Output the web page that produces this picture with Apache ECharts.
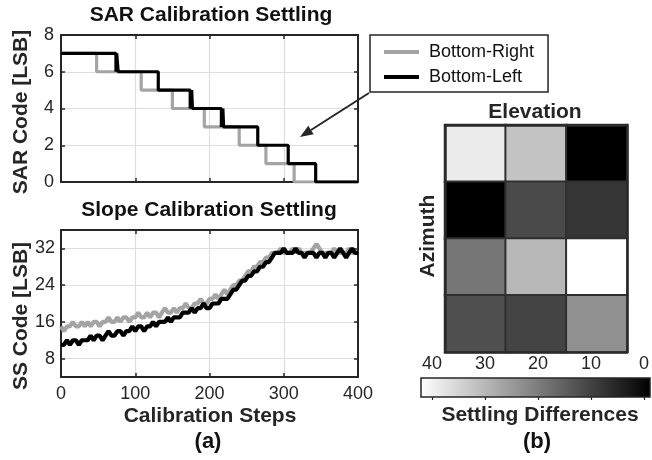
<!DOCTYPE html>
<html>
<head>
<meta charset="utf-8">
<script src="https://cdn.jsdelivr.net/npm/echarts@6/dist/echarts.min.js"></script>
<style>
  html, body { margin: 0; padding: 0; background: #fff; }
  #chart { width: 652px; height: 460px; }
</style>
</head>
<body>
<div id="chart"></div>
<script>
// SAR code settling: [calibration step, code]
const sarRight = [[0, 7], [48, 6], [108, 5], [150, 4], [193, 3], [240, 2], [276, 1], [314, 0], [400, 0]]
const sarLeft = [[0, 7], [74, 6], [75, 7], [77, 6], [131, 5], [174, 4], [176, 5], [177, 4],
  [216, 3], [218, 4], [219, 3], [265, 2], [306, 1], [343, 0], [400, 0]]

// slope code, one value every 4 calibration steps (0..400)
const ssRight = [
  15, 14, 15, 15, 16, 15, 15, 16, 15, 16,
  15, 16, 16, 15, 16, 16, 17, 16, 16, 17,
  16, 17, 17, 16, 17, 17, 18, 17, 17, 18,
  17, 18, 18, 17, 18, 19, 18, 18, 19, 18,
  19, 19, 20, 19, 19, 20, 20, 21, 20, 20,
  21, 21, 22, 21, 22, 23, 22, 23, 24, 24,
  25, 25, 26, 27, 27, 28, 28, 29, 29, 30,
  30, 31, 31, 31, 32, 31, 31, 31, 32, 31,
  32, 31, 31, 31, 31, 32, 33, 32, 31, 31,
  31, 31, 32, 31, 31, 31, 31, 32, 31, 31, 31
]
const ssLeft = [
  11, 11, 12, 11, 12, 12, 11, 12, 12, 12,
  13, 12, 13, 13, 12, 13, 14, 13, 13, 14,
  14, 13, 14, 14, 15, 14, 15, 15, 14, 15,
  15, 16, 15, 16, 16, 16, 17, 16, 17, 17,
  17, 18, 18, 18, 19, 18, 19, 19, 20, 19,
  19, 20, 20, 20, 21, 21, 21, 22, 23, 23,
  24, 25, 25, 26, 26, 27, 27, 28, 28, 29,
  29, 30, 31, 31, 31, 32, 31, 31, 31, 32,
  31, 31, 30, 31, 31, 31, 30, 31, 31, 30,
  31, 31, 30, 31, 32, 31, 30, 31, 32, 31, 31
]
const ssStep = 4
const ssTicks = [8, 16, 24, 32]

// settling differences, rows top -> bottom (azimuth), columns left -> right (elevation)
const elevation = ['E1', 'E2', 'E3']
const azimuth = ['A1', 'A2', 'A3', 'A4']
const heatRows = [
  [37, 30.7, 0],
  [0, 11.6, 8.5],
  [18.7, 28.9, 40],
  [12.4, 10.7, 22.6]
]

const FONT = "'Liberation Sans', Arial, sans-serif"
const INK = '#262626'
const GRAY = '#a4a4a4'

const heatData = []
heatRows.forEach((row, r) => row.forEach((v, c) => heatData.push([c, r, v])))

const toPairs = arr => arr.map((v, i) => [i * ssStep, v])

// 刻度朝内、四边封闭的坐标轴
function boxAxis (gridIndex, pos, extra) {
  return Object.assign({
    gridIndex,
    position: pos,
    type: 'value',
    axisLine: { show: true, onZero: false, lineStyle: { color: INK, width: 2 } },
    axisTick: { show: true, inside: true, length: 4, lineStyle: { color: INK, width: 1.5 } },
    axisLabel: { show: false },
    splitLine: { show: false }
  }, extra)
}
const labelStyle = { show: true, color: INK, fontFamily: FONT, fontSize: 18 }
const gridLine = { show: true, lineStyle: { color: '#dedede', width: 1.2 } }
const heatFrame = { show: true, lineStyle: { color: '#2a2a2a', width: 2.5 } }

const chart = echarts.init(document.getElementById('chart'))
chart.setOption({
  animation: false,
  backgroundColor: '#fff',
  grid: [
    { left: 61, top: 35, width: 297, height: 147 },
    { left: 61, top: 230, width: 297, height: 147 },
    { left: 445, top: 125, width: 182, height: 227 },
    { left: 432, top: 378, width: 217, height: 19 }
  ],
  xAxis: [
    boxAxis(0, 'bottom', { min: 0, max: 400, interval: 100, splitLine: gridLine }),
    boxAxis(0, 'top', { min: 0, max: 400, interval: 100 }),
    boxAxis(1, 'bottom', { min: 0, max: 400, interval: 100, splitLine: gridLine, axisLabel: Object.assign({ margin: 8 }, labelStyle) }),
    boxAxis(1, 'top', { min: 0, max: 400, interval: 100 }),
    { gridIndex: 2, type: 'category', data: elevation, position: 'bottom', z: 5, axisLine: heatFrame, axisTick: { show: false }, axisLabel: { show: false } },
    { gridIndex: 2, type: 'category', data: elevation, position: 'top', z: 5, axisLine: heatFrame, axisTick: { show: false }, axisLabel: { show: false } },
    { gridIndex: 3, type: 'value', min: 0, max: 40, interval: 10, inverse: true, position: 'top', z: 10,
      axisLine: { show: false }, splitLine: { show: false },
      axisTick: { show: true, inside: true, length: 3, lineStyle: { color: INK, width: 1.2 } },
      axisLabel: Object.assign({ margin: 5 }, labelStyle) }
  ],
  yAxis: [
    boxAxis(0, 'left', { min: 0, max: 8, interval: 2, splitLine: gridLine, axisLabel: Object.assign({ margin: 7 }, labelStyle) }),
    boxAxis(0, 'right', { min: 0, max: 8, interval: 2 }),
    boxAxis(1, 'left', { min: 4, max: 36, splitLine: gridLine,
      axisTick: { show: true, inside: true, length: 4, customValues: ssTicks, lineStyle: { color: INK, width: 1.5 } },
      axisLabel: Object.assign({ margin: 6, customValues: ssTicks }, labelStyle) }),
    boxAxis(1, 'right', { min: 4, max: 36,
      axisTick: { show: true, inside: true, length: 4, customValues: ssTicks, lineStyle: { color: INK, width: 1.5 } } }),
    { gridIndex: 2, type: 'category', data: azimuth, inverse: true, position: 'left', z: 5, axisLine: heatFrame, axisTick: { show: false }, axisLabel: { show: false } },
    { gridIndex: 2, type: 'category', data: azimuth, inverse: true, position: 'right', z: 5, axisLine: heatFrame, axisTick: { show: false }, axisLabel: { show: false } },
    { gridIndex: 3, type: 'value', min: 0, max: 1, show: false }
  ],
  visualMap: {
    type: 'continuous',
    show: false,
    min: 0,
    max: 40,
    seriesIndex: 4,
    inRange: { color: ['#000000', '#ffffff'] }
  },
  legend: {
    orient: 'vertical',
    left: 370,
    top: 35,
    padding: [7, 14, 5, 14],
    itemGap: 5,
    itemWidth: 35,
    itemHeight: 4,
    icon: 'rect',
    borderColor: INK,
    borderWidth: 1.5,
    backgroundColor: '#fff',
    data: ['Bottom-Right', 'Bottom-Left'],
    textStyle: { color: '#111', fontFamily: FONT, fontSize: 18, lineHeight: 20, padding: [0, 0, 0, 5] }
  },
  series: [
    { name: 'Bottom-Right', type: 'line', xAxisIndex: 0, yAxisIndex: 0, step: 'end', data: sarRight, symbol: 'none', color: GRAY, lineStyle: { width: 3.2, color: GRAY } },
    { name: 'Bottom-Left', type: 'line', xAxisIndex: 0, yAxisIndex: 0, step: 'end', data: sarLeft, symbol: 'none', color: '#000', lineStyle: { width: 3.2, color: '#000' } },
    { name: 'Bottom-Right', type: 'line', xAxisIndex: 2, yAxisIndex: 2, data: toPairs(ssRight), symbol: 'none', color: GRAY, lineStyle: { width: 4.2, color: GRAY, join: 'bevel' } },
    { name: 'Bottom-Left', type: 'line', xAxisIndex: 2, yAxisIndex: 2, data: toPairs(ssLeft), symbol: 'none', color: '#000', lineStyle: { width: 4.2, color: '#000', join: 'bevel' } },
    { type: 'heatmap', xAxisIndex: 4, yAxisIndex: 4, data: heatData,
      itemStyle: { borderColor: '#303030', borderWidth: 2 }, emphasis: { disabled: true } }
  ],
  graphic: [
    // 色条
    { type: 'rect', z: 1, shape: { x: 421, y: 378, width: 229, height: 19 },
      style: { fill: new echarts.graphic.LinearGradient(0, 0, 1, 0, [{ offset: 0, color: '#ffffff' }, { offset: 1, color: '#000000' }]), stroke: INK, lineWidth: 1.5 } },
    // 指向曲线的箭头
    { type: 'line', z: 50, shape: { x1: 369, y1: 93, x2: 311, y2: 130 }, style: { stroke: INK, lineWidth: 2 } },
    { type: 'polygon', z: 50, shape: { points: [[300, 137], [313.7, 134.2], [308.3, 125.8]] }, style: { fill: INK } },
    // 文本
    { type: 'text', x: 211, y: 15, style: { text: 'SAR Calibration Settling', font: `bold 21px ${FONT}`, fill: '#111', align: 'center', verticalAlign: 'middle' } },
    { type: 'text', x: 209, y: 210, style: { text: 'Slope Calibration Settling', font: `bold 21px ${FONT}`, fill: '#111', align: 'center', verticalAlign: 'middle' } },
    { type: 'text', x: 21, y: 112, rotation: Math.PI / 2, style: { text: 'SAR Code [LSB]', font: `bold 21px ${FONT}`, fill: INK, align: 'center', verticalAlign: 'middle' } },
    { type: 'text', x: 21, y: 316, rotation: Math.PI / 2, style: { text: 'SS Code [LSB]', font: `bold 21px ${FONT}`, fill: INK, align: 'center', verticalAlign: 'middle' } },
    { type: 'text', x: 210, y: 416, style: { text: 'Calibration Steps', font: `bold 21px ${FONT}`, fill: INK, align: 'center', verticalAlign: 'middle' } },
    { type: 'text', x: 208, y: 442, style: { text: '(a)', font: `bold 22px ${FONT}`, fill: '#111', align: 'center', verticalAlign: 'middle' } },
    { type: 'text', x: 535, y: 112, style: { text: 'Elevation', font: `bold 21px ${FONT}`, fill: INK, align: 'center', verticalAlign: 'middle' } },
    { type: 'text', x: 428, y: 236, rotation: Math.PI / 2, style: { text: 'Azimuth', font: `bold 21px ${FONT}`, fill: INK, align: 'center', verticalAlign: 'middle' } },
    { type: 'text', x: 540, y: 415, style: { text: 'Settling Differences', font: `bold 21px ${FONT}`, fill: INK, align: 'center', verticalAlign: 'middle' } },
    { type: 'text', x: 537, y: 442, style: { text: '(b)', font: `bold 22px ${FONT}`, fill: '#111', align: 'center', verticalAlign: 'middle' } }
  ]
})
</script>
</body>
</html>
